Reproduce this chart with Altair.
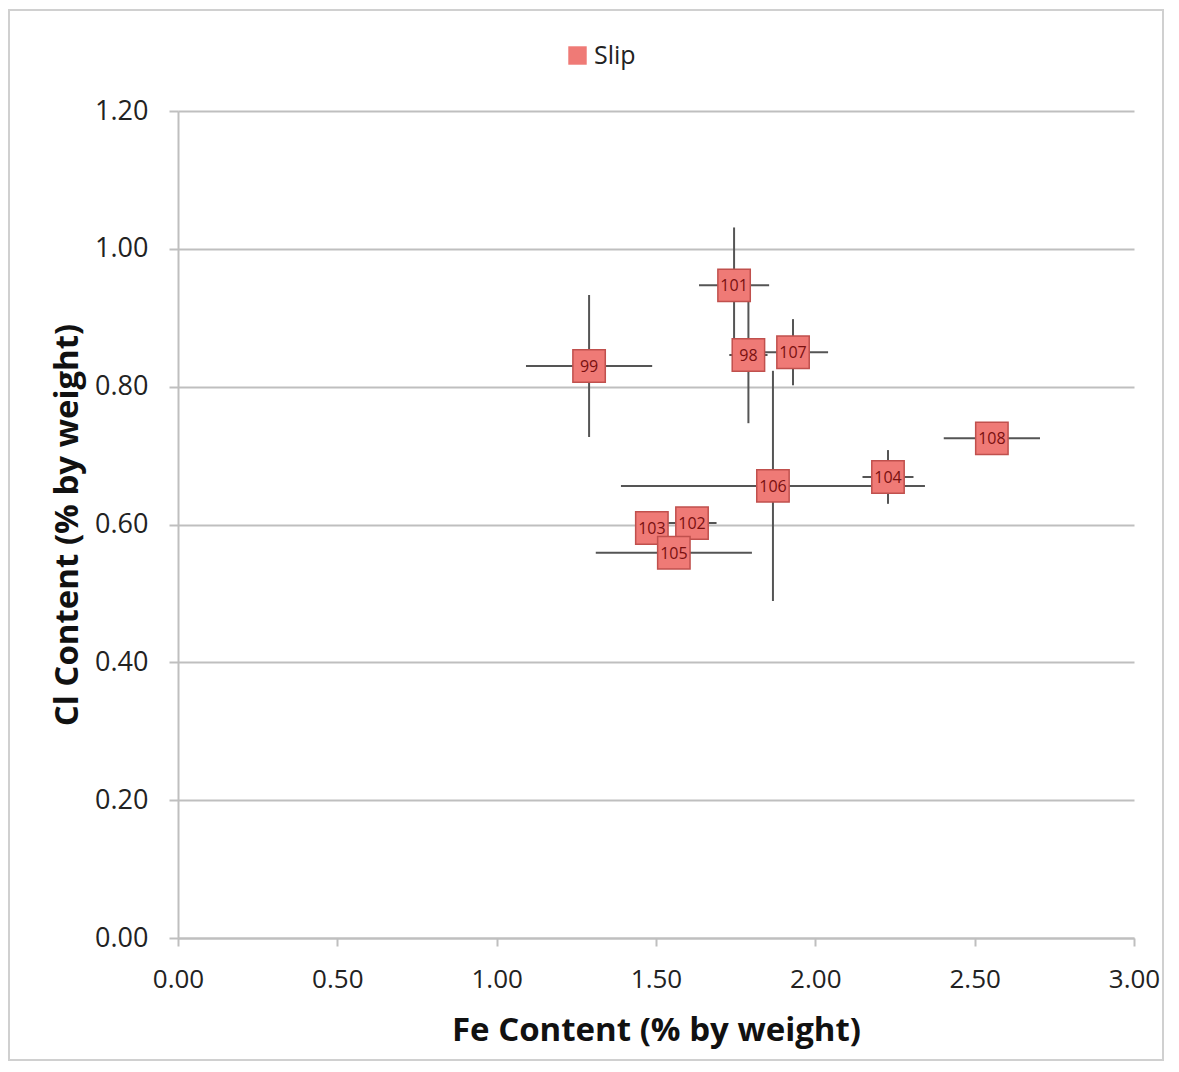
import altair as alt
import pandas as pd

labels = ["98", "99", "101", "102", "103", "104", "105", "106", "107", "108"]
fe = [1.790, 1.290, 1.745, 1.613, 1.487, 2.228, 1.556, 1.867, 1.930, 2.554]
cl = [0.846, 0.830, 0.947, 0.602, 0.595, 0.669, 0.559, 0.656, 0.850, 0.725]
fe_err = [0.060, 0.198, 0.110, 0.077, 0.040, 0.080, 0.245, 0.477, 0.110, 0.151]
cl_err = [0.099, 0.103, 0.084, 0.015, 0.015, 0.039, 0.015, 0.167, 0.048, 0.015]
series = "Slip"
x_ticks = [0.0, 0.5, 1.0, 1.5, 2.0, 2.5, 3.0]
y_ticks = [0.0, 0.2, 0.4, 0.6, 0.8, 1.0, 1.2]

df = pd.DataFrame({
    "label": labels, "fe": fe, "cl": cl,
    "fe_lo": [v - e for v, e in zip(fe, fe_err)],
    "fe_hi": [v + e for v, e in zip(fe, fe_err)],
    "cl_lo": [v - e for v, e in zip(cl, cl_err)],
    "cl_hi": [v + e for v, e in zip(cl, cl_err)],
    "series": [series] * len(labels),
})

W, H = 956, 827
PL, PT, PR, PB = 170, 103, 37, 126
FONT = "Open Sans"
GRAY = "#BFBFBF"

xs = alt.Scale(domain=[0, 3], nice=False)
ys = alt.Scale(domain=[0, 1.2], nice=False)

xaxis = alt.Axis(title="Fe Content (% by weight)", values=x_ticks, format=".2f",
                 grid=False, tickSize=8, labelPadding=20, titlePadding=22,
                 labelFlush=False, labelFontSize=26)
yaxis = alt.Axis(title="Cl Content (% by weight)", values=y_ticks, format=".2f",
                 grid=True, tickSize=9, labelPadding=21, titlePadding=10,
                 labelFontSize=27)

base = alt.Chart(df)

hbar = base.mark_rule(color="#555555", strokeWidth=2).encode(
    x=alt.X("fe_lo:Q", scale=xs, axis=xaxis), x2="fe_hi:Q",
    y=alt.Y("cl:Q", scale=ys, axis=yaxis))
vbar = base.mark_rule(color="#555555", strokeWidth=2).encode(
    x=alt.X("fe:Q", scale=xs), y=alt.Y("cl_lo:Q", scale=ys), y2="cl_hi:Q")

pts = base.mark_square(size=1050, opacity=1, stroke="#C0504D", strokeWidth=1.5).encode(
    x=alt.X("fe:Q", scale=xs), y=alt.Y("cl:Q", scale=ys),
    color=alt.Color("series:N", scale=alt.Scale(range=["#EF7A76"]),
                    legend=alt.Legend(title=None, orient="none", legendX=387, legendY=-68,
                                      symbolType="square", symbolSize=340,
                                      symbolStrokeWidth=0, labelFontSize=25,
                                      labelFont=FONT, labelColor="#222222")))

txt = base.mark_text(fontSize=16, font=FONT, color="#7A1010", baseline="middle", dy=1).encode(
    x=alt.X("fe:Q", scale=xs), y=alt.Y("cl:Q", scale=ys), text="label:N")

frame = alt.Chart(pd.DataFrame({"a": [0]})).mark_rect(
    fill=None, stroke="#D0D0D0", strokeWidth=2).encode(
    x=alt.value(-PL + 1), x2=alt.value(W + PR - 8),
    y=alt.value(-PT + 2), y2=alt.value(H + PB - 4))

chart = alt.layer(frame, hbar, vbar, pts, txt).properties(
    width=W, height=H,
    autosize=alt.AutoSizeParams(type="none"),
    padding={"left": PL, "top": PT, "right": PR, "bottom": PB},
).configure_view(stroke=None).configure_axis(
    labelFont=FONT, titleFont=FONT, titleFontSize=33,
    titleFontWeight="bold", labelColor="#222222", titleColor="#111111",
    domainColor=GRAY, domainWidth=2, tickColor=GRAY, tickWidth=2,
    gridColor=GRAY, gridWidth=2,
)

chart.save("out.html", embed_options={"renderer": "svg", "actions": False})
